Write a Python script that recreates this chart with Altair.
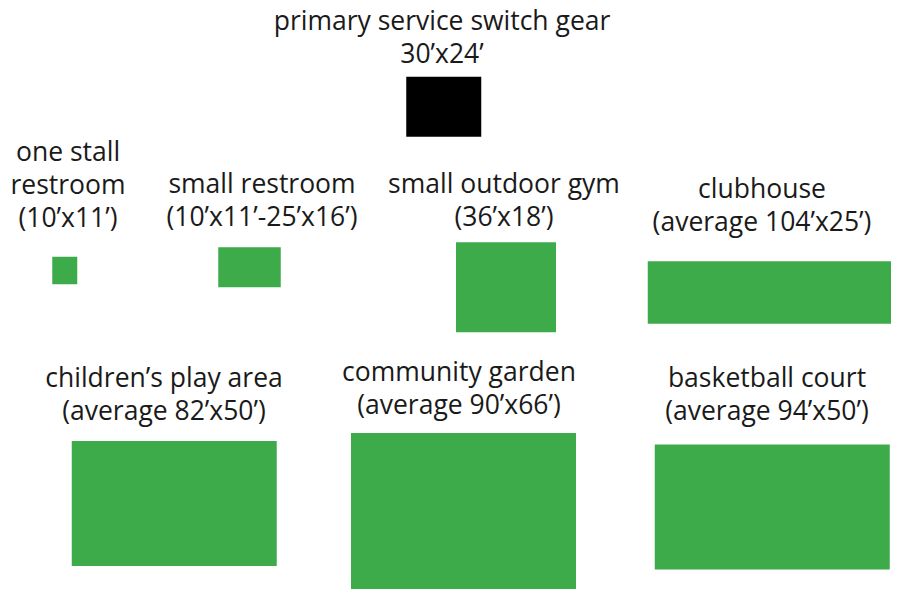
import altair as alt
import pandas as pd

# Facility names and their stated dimensions (label text)
names = [
    "primary service switch gear",
    "one stall\nrestroom",
    "small restroom",
    "small outdoor gym",
    "clubhouse",
    "children’s play area",
    "community garden",
    "basketball court",
]
dims = [
    "30’x24’",
    "(10’x11’)",
    "(10’x11’-25’x16’)",
    "(36’x18’)",
    "(average 104’x25’)",
    "(average 82’x50’)",
    "(average 90’x66’)",
    "(average 94’x50’)",
]
kind = ["electrical", "amenity", "amenity", "amenity", "amenity", "amenity", "amenity", "amenity"]

# Footprint drawn for each facility, in feet
width_ft = [30, 10, 25, 40, 104, 82, 90, 94]
height_ft = [24, 11, 16, 36, 25, 50, 66, 50]

# Layout of the diagram, in feet (same scale as the footprints)
left_ft = [159.3, 17.7, 84.1, 179.2, 255.9, 25.5, 137.2, 258.7]
top_ft = [27.5, 99.5, 95.7, 93.7, 101.3, 173.2, 170.0, 174.6]
label_x_ft = [173.6, 24.0, 101.6, 198.4, 301.6, 62.4, 180.4, 303.6]
label_y_ft = [8.8, 61.2, 74.0, 74.0, 76.0, 151.6, 149.2, 151.6]

df = pd.DataFrame({
    "name": names,
    "dims": dims,
    "kind": kind,
    "w": width_ft,
    "h": height_ft,
    "left": left_ft,
    "top": top_ft,
    "lx": label_x_ft,
    "ly": label_y_ft,
})

W, H = 883, 581
FT = 2.5  # pixels per foot
xs = alt.Scale(domain=[0, W / FT], nice=False, zero=False, padding=0)
ys = alt.Scale(domain=[0, H / FT], nice=False, zero=False, reverse=True, padding=0)

base = alt.Chart(df)

rects = base.mark_rect(clip=True).transform_calculate(
    right="datum.left + datum.w", bottom="datum.top + datum.h"
).encode(
    x=alt.X("left:Q", scale=xs, axis=None),
    x2="right:Q",
    y=alt.Y("top:Q", scale=ys, axis=None),
    y2="bottom:Q",
    color=alt.Color(
        "kind:N",
        scale=alt.Scale(domain=["electrical", "amenity"], range=["#000000", "#3eab4b"]),
        legend=None,
    ),
)

labels = base.mark_text(
    align="center",
    baseline="alphabetic",
    lineBreak="\n",
    lineHeight=33,
    font="Open Sans",
    fontSize=26.5,
    color="#1a1a1a",
).transform_calculate(
    label="datum.name + '\\n' + datum.dims"
).encode(
    x=alt.X("lx:Q", scale=xs, axis=None),
    y=alt.Y("ly:Q", scale=ys, axis=None),
    text="label:N",
)

chart = alt.layer(rects, labels).properties(
    width=W, height=H, padding=0, autosize=alt.AutoSizeParams(type="none")
).configure_view(stroke=None)

chart.save("out.html", embed_options={"renderer": "svg", "actions": False})
